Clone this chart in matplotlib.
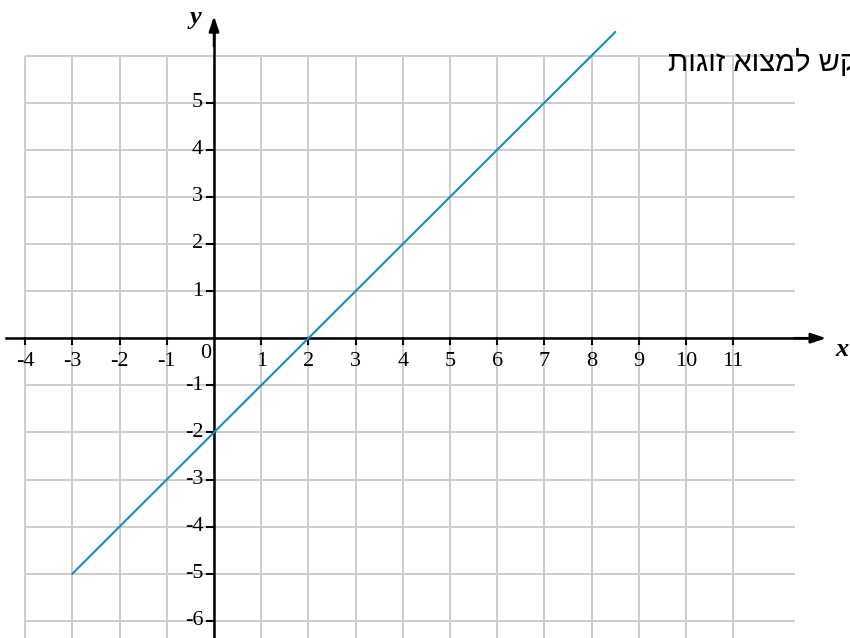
import matplotlib
matplotlib.use("Agg")
import matplotlib.pyplot as plt

# data
line_x = [-3, 8.5]
line_y = [-5, 6.5]
x_ticks = [-4, -3, -2, -1, 1, 2, 3, 4, 5, 6, 7, 8, 9, 10, 11]
y_ticks = [-6, -5, -4, -3, -2, -1, 1, 2, 3, 4, 5]
grid_x = list(range(-4, 12))
grid_y = list(range(-6, 7))
note_logical = "מבקש למצוא זוגות"

fig = plt.figure(figsize=(8.5, 6.38), dpi=100)
ax = fig.add_axes([0, 0, 1, 1])
ax.set_xlim(-214 / 47.2, (850 - 214) / 47.2)
ax.set_ylim(-(638 - 338.2) / 47.1, 338.2 / 47.1)
ax.axis("off")

grid_c = "#cccccc"
gx_right = 12.3
for gx in grid_x:
    ax.plot([gx, gx], [-7, 6], color=grid_c, lw=1.4, zorder=1, solid_capstyle="butt")
for gy in grid_y:
    ax.plot([-4, gx_right], [gy, gy], color=grid_c, lw=1.4, zorder=1, solid_capstyle="butt")

# axes with arrows
ax.plot([-4.41, 12.6], [0, 0], color="black", lw=1.8, zorder=3)
ax.plot([0, 0], [-7, 6.5], color="black", lw=1.8, zorder=3)
ax.annotate("", xy=(12.97, 0), xytext=(12.3, 0),
            arrowprops=dict(arrowstyle="-|>,head_length=0.9,head_width=0.3",
                            color="black", lw=1.8, shrinkA=0, shrinkB=0), zorder=4)
ax.annotate("", xy=(0, 6.84), xytext=(0, 6.2),
            arrowprops=dict(arrowstyle="-|>,head_length=0.9,head_width=0.3",
                            color="black", lw=1.8, shrinkA=0, shrinkB=0), zorder=4)

serif = "Liberation Serif"
for t in x_ticks:
    ax.plot([t, t], [0, -0.13], color="black", lw=1.5, zorder=3)
    ax.text(t, -0.5, str(t), ha="center", va="center", fontsize=16, family=serif)
for t in y_ticks:
    ax.plot([-0.14, 0], [t, t], color="black", lw=1.5, zorder=3)
    ax.text(-0.23, t, str(t), ha="right", va="center", fontsize=16, family=serif)
ax.text(-0.17, -0.32, "0", ha="center", va="center", fontsize=16, family=serif)

ax.text(-0.40, 6.81, "y", ha="center", va="center", fontsize=19, family=serif,
        style="italic", weight="bold")
ax.text(13.3, -0.25, "x", ha="center", va="center", fontsize=19, family=serif,
        style="italic", weight="bold")

ax.plot(line_x, line_y, color="#1a8bc2", lw=1.5, zorder=5)

ax.text((668 - 214) / 47.2, 5.84, note_logical[::-1], ha="left", va="center",
        fontsize=21, family=["Liberation Sans", "DejaVu Sans"], zorder=6)

fig.savefig("out.png", dpi=100)
